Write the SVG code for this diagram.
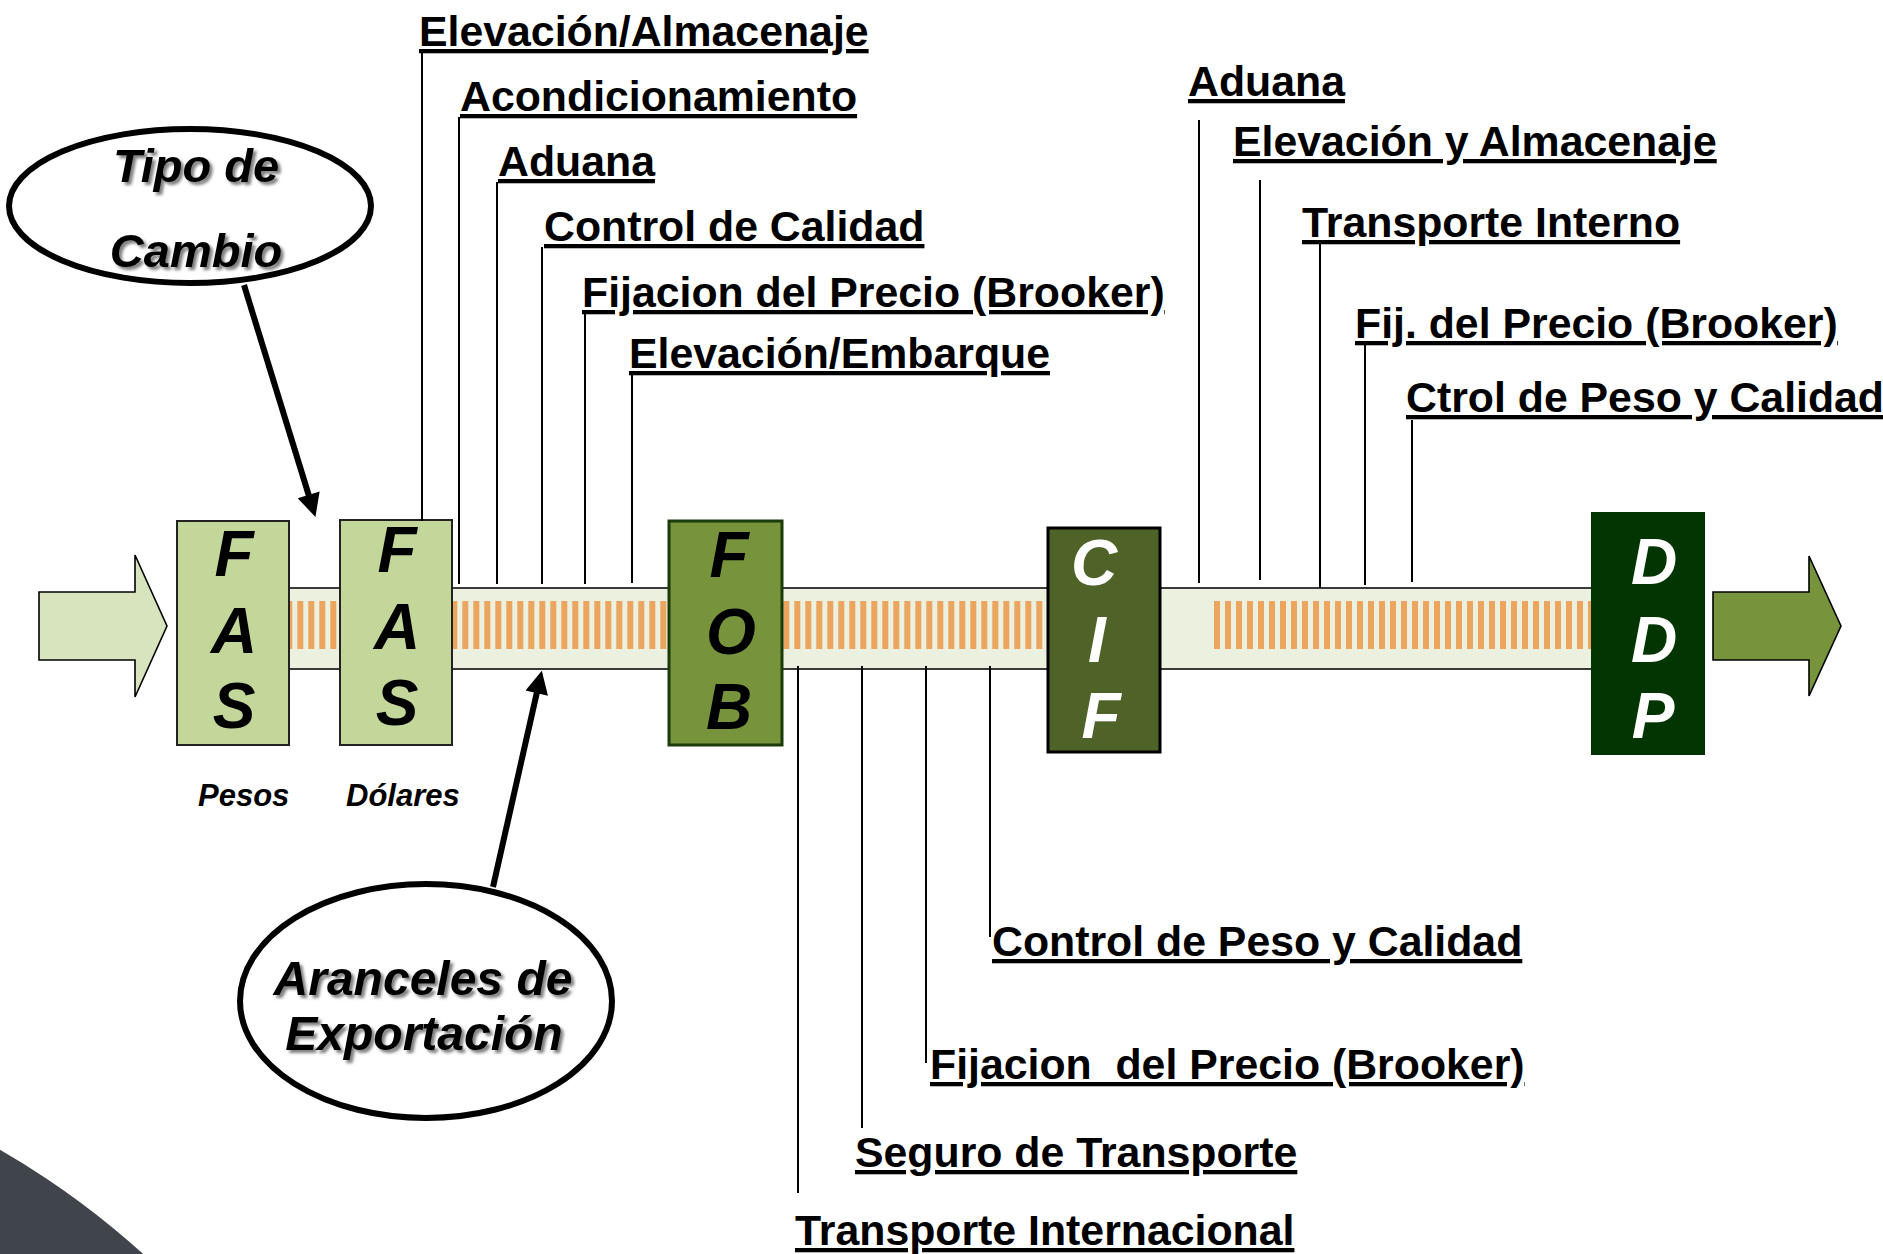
<svg xmlns="http://www.w3.org/2000/svg" width="1883" height="1254" viewBox="0 0 1883 1254">
<defs>
<style>
.lbl{font-family:"Liberation Sans",Arial,sans-serif;font-weight:bold;font-size:42.8px;fill:#000;text-decoration:underline;}
.big{font-family:"Liberation Sans",Arial,sans-serif;font-weight:bold;font-style:italic;font-size:64px;text-anchor:middle;}
.blk{fill:#000;}
.wht{fill:#fff;}
.lead{stroke:#000;stroke-width:2;fill:none;}
.ell{fill:#fff;stroke:#000;stroke-width:6;}
.etxt{font-family:"Liberation Sans",Arial,sans-serif;font-weight:bold;font-style:italic;font-size:47px;text-anchor:middle;fill:#000;filter:url(#sh);}
.etxt2{font-size:48px;}
.cur{font-family:"Liberation Sans",Arial,sans-serif;font-weight:bold;font-style:italic;font-size:31px;fill:#000;}
.ptr{stroke:#000;stroke-width:6;fill:none;marker-end:url(#ah);}
</style>
<filter id="sh" x="-10%" y="-30%" width="130%" height="170%">
<feDropShadow dx="3" dy="3" stdDeviation="1.6" flood-color="#000" flood-opacity="0.5"/>
</filter>
<pattern id="s1" x="0.3" y="601" width="11" height="48" patternUnits="userSpaceOnUse"><rect width="6" height="48" fill="#eba55e"/></pattern>
<pattern id="s2" x="2.3" y="601" width="11" height="48" patternUnits="userSpaceOnUse"><rect width="6" height="48" fill="#eba55e"/></pattern>
<pattern id="s3" x="4" y="601" width="11" height="48" patternUnits="userSpaceOnUse"><rect width="6" height="48" fill="#eba55e"/></pattern>
<marker id="ah" markerUnits="userSpaceOnUse" viewBox="0 0 10 10" refX="0.5" refY="5" markerWidth="25" markerHeight="23" orient="auto"><path d="M0,0 L10,5 L0,10 z" fill="#000"/></marker>
</defs>

<circle id="corner-deco" cx="-418" cy="1875" r="837" fill="#3f454b"/>

<g id="band">
<rect x="250" y="588" width="1360" height="81" fill="#ebf1de" stroke="#3a3a3a" stroke-width="2"/>
<rect x="289" y="601" width="380" height="48" fill="url(#s1)"/>
<rect x="782" y="601" width="266" height="48" fill="url(#s2)"/>
<rect x="1213" y="601" width="378" height="48" fill="url(#s3)"/>
</g>

<g id="arrow-in">
<polygon points="39,592 135,592 135,555 167,626 135,697 135,660 39,660" fill="#d7e4bd" stroke="#000" stroke-width="1.6"/>
</g>
<g id="arrow-out">
<polygon points="1713,592 1809,592 1809,556 1841,626 1809,696 1809,660 1713,660" fill="#77933c" stroke="#000" stroke-width="1.6"/>
</g>

<g id="fas-pesos">
<rect x="177" y="521" width="112" height="224" fill="#c4d79b" stroke="#222" stroke-width="2"/>
<text class="big blk" x="234" y="576">F</text>
<text class="big blk" x="234" y="653">A</text>
<text class="big blk" x="234" y="728">S</text>
<text class="cur" x="198" y="806">Pesos</text>
</g>
<g id="fas-dolares">
<rect x="340" y="520" width="112" height="225" fill="#c4d79b" stroke="#222" stroke-width="2"/>
<text class="big blk" x="397" y="572">F</text>
<text class="big blk" x="397" y="649">A</text>
<text class="big blk" x="397" y="725">S</text>
<text class="cur" x="346" y="806">Dólares</text>
</g>
<g id="fob">
<rect x="669" y="521" width="113" height="224" fill="#77933c" stroke="#1b3b0b" stroke-width="3"/>
<text class="big blk" x="729" y="577">F</text>
<text class="big blk" x="731" y="654">O</text>
<text class="big blk" x="729" y="729">B</text>
</g>
<g id="cif">
<rect x="1048" y="528" width="112" height="224" fill="#4f6228" stroke="#000" stroke-width="3"/>
<text class="big wht" x="1094" y="585">C</text>
<text class="big wht" x="1097" y="662">I</text>
<text class="big wht" x="1101" y="738">F</text>
</g>
<g id="ddp">
<rect x="1591" y="512" width="114" height="243" fill="#033503"/>
<text class="big wht" x="1654" y="584">D</text>
<text class="big wht" x="1654" y="662">D</text>
<text class="big wht" x="1653" y="738">P</text>
</g>

<g id="connectors">
<path class="lead" d="M422,52 V521"/>
<path class="lead" d="M459,117 V584"/>
<path class="lead" d="M497,182 V584"/>
<path class="lead" d="M542,247 V584"/>
<path class="lead" d="M585,313 V584"/>
<path class="lead" d="M632,374 V583"/>
<path class="lead" d="M1199,120 V583"/>
<path class="lead" d="M1260,180 V580"/>
<path class="lead" d="M1320,243 V588"/>
<path class="lead" d="M1365,344 V585"/>
<path class="lead" d="M1412,420 V582"/>
<path class="lead" d="M798,666 V1193"/>
<path class="lead" d="M862,666 V1128"/>
<path class="lead" d="M926,666 V1063"/>
<path class="lead" d="M990,666 V937"/>
<path class="ptr" d="M244,285 L309,496"/>
<path class="ptr" d="M493,887 L537,692"/>
</g>

<g id="labels-fob">
<text class="lbl" x="419" y="46">Elevación/Almacenaje</text>
<text class="lbl" x="460" y="111">Acondicionamiento</text>
<text class="lbl" x="498" y="176">Aduana</text>
<text class="lbl" x="544" y="241">Control de Calidad</text>
<text class="lbl" x="582" y="307">Fijacion del Precio (Brooker)</text>
<text class="lbl" x="629" y="368">Elevación/Embarque</text>
</g>
<g id="labels-ddp">
<text class="lbl" x="1188" y="96">Aduana</text>
<text class="lbl" x="1233" y="156">Elevación y Almacenaje</text>
<text class="lbl" x="1302" y="237">Transporte Interno</text>
<text class="lbl" x="1355" y="338">Fij. del Precio (Brooker)</text>
<text class="lbl" x="1406" y="412">Ctrol de Peso y Calidad</text>
</g>
<g id="labels-cif">
<text class="lbl" x="992" y="956">Control de Peso y Calidad</text>
<text class="lbl" x="930" y="1079" xml:space="preserve">Fijacion  del Precio (Brooker)</text>
<text class="lbl" x="855" y="1167">Seguro de Transporte</text>
<text class="lbl" x="795" y="1245">Transporte Internacional</text>
</g>

<g id="tipo-de-cambio">
<ellipse class="ell" cx="190" cy="206" rx="181" ry="77"/>
<text class="etxt" x="196" y="182">Tipo de</text>
<text class="etxt" x="196" y="267">Cambio</text>
</g>
<g id="aranceles">
<ellipse class="ell" cx="426" cy="1001" rx="186" ry="117"/>
<text class="etxt etxt2" x="423" y="995">Aranceles de</text>
<text class="etxt etxt2" x="424" y="1050">Exportación</text>
</g>
</svg>
